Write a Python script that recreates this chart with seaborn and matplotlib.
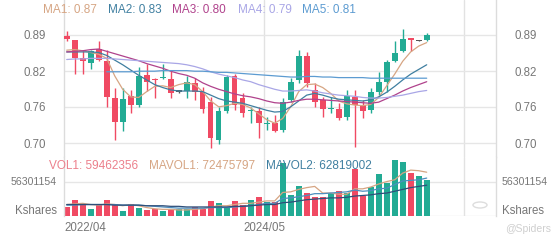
import numpy as np
import pandas as pd
import matplotlib
matplotlib.use("Agg")
import matplotlib.pyplot as plt
from matplotlib import font_manager
import seaborn as sns
from matplotlib.patches import Circle

# ---------------- data ----------------
date_labels = ["2022/04", "2024/05"]
opens  = [0.883, 0.876, 0.845, 0.837, 0.861, 0.840, 0.777, 0.736, 0.780, 0.765,
          0.816, 0.810, 0.811, 0.809, 0.788, 0.789, 0.802, 0.788, 0.771, 0.705,
          0.754, 0.815, 0.777, 0.754, 0.755, 0.732, 0.735, 0.722, 0.774, 0.808,
          0.849, 0.791, 0.774, 0.758, 0.759, 0.745, 0.779, 0.765, 0.757, 0.788,
          0.805, 0.840, 0.858, 0.880, 0.875, 0.876]
highs  = [0.891, 0.877, 0.859, 0.860, 0.874, 0.859, 0.795, 0.794, 0.791, 0.831,
          0.835, 0.812, 0.836, 0.824, 0.790, 0.814, 0.811, 0.796, 0.779, 0.762,
          0.816, 0.819, 0.785, 0.762, 0.762, 0.745, 0.748, 0.777, 0.811, 0.860,
          0.856, 0.802, 0.779, 0.778, 0.768, 0.791, 0.791, 0.774, 0.794, 0.822,
          0.842, 0.874, 0.895, 0.880, 0.876, 0.888]
lows   = [0.874, 0.819, 0.819, 0.827, 0.840, 0.762, 0.705, 0.720, 0.752, 0.761,
          0.789, 0.777, 0.810, 0.777, 0.786, 0.777, 0.774, 0.751, 0.691, 0.699,
          0.751, 0.757, 0.745, 0.734, 0.708, 0.722, 0.719, 0.719, 0.771, 0.802,
          0.796, 0.762, 0.745, 0.751, 0.739, 0.739, 0.694, 0.742, 0.751, 0.782,
          0.788, 0.839, 0.856, 0.858, 0.874, 0.875]
closes = [0.878, 0.845, 0.841, 0.858, 0.843, 0.779, 0.736, 0.775, 0.765, 0.814,
          0.805, 0.808, 0.813, 0.786, 0.788, 0.804, 0.788, 0.759, 0.708, 0.754,
          0.813, 0.765, 0.752, 0.756, 0.734, 0.734, 0.721, 0.771, 0.805, 0.849,
          0.802, 0.771, 0.759, 0.760, 0.742, 0.781, 0.765, 0.755, 0.788, 0.804,
          0.839, 0.855, 0.878, 0.876, 0.875, 0.885]
volumes_m = [14.4, 26.5, 18.2, 11.0, 18.2, 26.5, 19.3, 8.8, 19.9, 12.7,
             9.9, 11.0, 8.8, 11.0, 11.0, 11.0, 15.5, 11.0, 25.4, 21.0,
             14.4, 25.4, 18.2, 26.5, 31.0, 23.7, 23.7, 88.0, 34.8, 49.7,
             38.6, 32.0, 32.0, 37.5, 41.9, 37.5, 77.3, 33.1, 48.5, 69.6,
             55.2, 92.7, 88.9, 71.7, 66.2, 59.46]

ma1 = [0.859, 0.860, 0.858, 0.855, 0.852, 0.845, 0.815, 0.792, 0.779, 0.778,
       0.788, 0.797, 0.798, 0.795, 0.800, 0.803, 0.800, 0.788, 0.772, 0.762,
       0.764, 0.768, 0.766, 0.760, 0.750, 0.740, 0.734, 0.742, 0.762, 0.788,
       0.800, 0.801, 0.795, 0.785, 0.772, 0.767, 0.765, 0.764, 0.766, 0.778,
       0.798, 0.818, 0.840, 0.856, 0.866, 0.872]
ma2 = [0.856, 0.856, 0.856, 0.856, 0.855, 0.850, 0.842, 0.834, 0.825, 0.816,
       0.808, 0.800, 0.795, 0.791, 0.789, 0.789, 0.789, 0.788, 0.782, 0.776,
       0.772, 0.770, 0.768, 0.764, 0.760, 0.756, 0.753, 0.754, 0.762, 0.772,
       0.782, 0.785, 0.782, 0.778, 0.775, 0.774, 0.773, 0.772, 0.774, 0.779,
       0.787, 0.797, 0.808, 0.818, 0.826, 0.834]
ma3 = [0.856, 0.857, 0.858, 0.860, 0.861, 0.857, 0.853, 0.849, 0.845, 0.841,
       0.836, 0.832, 0.828, 0.823, 0.819, 0.816, 0.811, 0.803, 0.797, 0.792,
       0.788, 0.784, 0.781, 0.779, 0.776, 0.772, 0.769, 0.768, 0.770, 0.773,
       0.775, 0.775, 0.774, 0.773, 0.772, 0.771, 0.770, 0.769, 0.768, 0.770,
       0.776, 0.782, 0.789, 0.795, 0.800, 0.805]
ma4 = [0.843, 0.844, 0.844, 0.845, 0.845, 0.845, 0.844, 0.843, 0.842, 0.841,
       0.840, 0.839, 0.838, 0.837, 0.836, 0.834, 0.831, 0.827, 0.822, 0.818,
       0.815, 0.812, 0.808, 0.805, 0.800, 0.796, 0.792, 0.789, 0.789, 0.790,
       0.791, 0.789, 0.786, 0.784, 0.782, 0.781, 0.780, 0.778, 0.777, 0.777,
       0.778, 0.780, 0.782, 0.785, 0.788, 0.790]
ma5 = [np.nan] * 5 + [0.822, 0.822, 0.822, 0.822, 0.823,
       0.823, 0.823, 0.824, 0.824, 0.824, 0.824, 0.823, 0.823, 0.822, 0.821,
       0.821, 0.820, 0.819, 0.818, 0.817, 0.816, 0.815, 0.814, 0.813, 0.813,
       0.814, 0.814, 0.813, 0.813, 0.812, 0.812, 0.812, 0.812, 0.811, 0.811,
       0.811, 0.811, 0.811, 0.811, 0.811, 0.811]

mavol1_m = [19, 20, 21, 19, 18, 20, 19, 17, 19, 17, 14, 12, 11, 11, 10, 10, 11, 12,
            15, 17, 17, 19, 21, 21, 23, 25, 25, 39, 40, 44, 47, 49, 38, 38, 36, 36,
            45, 45, 48, 53, 57, 60, 71, 76, 75, 72.5]
mavol2_m = [18, 18, 19, 19, 19, 19, 19, 18, 18, 18, 17, 16, 15, 14, 13, 13, 13, 13,
            14, 14, 14, 15, 16, 17, 19, 21, 21, 29, 30, 32, 34, 37, 37, 38, 39, 40,
            43, 41, 42, 45, 46, 52, 58, 59, 60, 62.8]
mavol3_m = [19, 19, 19, 19, 19, 19, 18, 18, 18, 18, 17, 17, 17, 16, 16, 15, 15, 15,
            15, 15, 15, 16, 16, 17, 18, 19, 19, 22, 23, 25, 27, 28, 29, 30, 30, 31,
            33, 34, 35, 37, 38, 41, 44, 47, 49, 51]

ma_legend = [("MA1: 0.87", "#d6a583"), ("MA2: 0.83", "#3f7fa0"),
             ("MA3: 0.80", "#b0428c"), ("MA4: 0.79", "#a9a6e6"),
             ("MA5: 0.81", "#5c9bd1")]
vol_legend = [("VOL1: 59462356", "#ec7f8b"), ("MAVOL1: 72475797", "#d6a583"),
              ("MAVOL2: 62819002", "#3f7fa0")]
vol_tick = 56301154

# ---------------- style ----------------
sns.set_theme(style="white")
plt.rcParams['font.family'] = ['Liberation Sans', 'DejaVu Sans']

try:
    font_manager.findfont(font_manager.FontProperties(family="Liberation Sans Narrow"),
                          fallback_to_default=False)
    NARROW = dict(family="Liberation Sans Narrow", fontsize=8.3)
except Exception:
    NARROW = dict(family="Liberation Sans", fontsize=7.6)

UP, DOWN, FLAT = "#22ab94", "#f04a63", "#555555"
GRID = "#e6e6e6"
TXT = "#777777"
FS = 8.3

W, H = 560, 240
fig = plt.figure(figsize=(W / 100, H / 100), dpi=100)
fig.patch.set_facecolor("white")

def fx(px):
    return px / W

def fy(py):
    return 1 - py / H

L, R = 64, 496
TOP, MID, BOT = 0, 157, 216
ax = fig.add_axes([fx(L), fy(MID), fx(R - L), (MID - TOP) / H])
axv = fig.add_axes([fx(L), fy(BOT), fx(R - L), (BOT - MID) / H])

n = len(opens)
idx = np.arange(n)
o = np.array(opens); c = np.array(closes)
hi = np.array(highs); lo = np.array(lows)
cols = [UP if c[i] > o[i] else (DOWN if c[i] < o[i] else FLAT) for i in range(n)]
vcols = [DOWN if c[i] < o[i] else UP for i in range(n)]

pxu = 583.8
ylo = 0.70 - (MID - 143) / pxu
yhi = 0.70 + (143 - TOP) / pxu
xl = (L - 66.7) / 8.0
xr = (R - 66.7) / 8.0

for a in (ax, axv):
    a.set_xlim(xl, xr)
    a.set_facecolor("white")
    for s in ("top", "bottom"):
        a.spines[s].set_visible(False)
    for s in ("left", "right"):
        a.spines[s].set_color("#dcdcdc")
        a.spines[s].set_linewidth(1)
    a.set_xticks([])
    for xv in [(264 - 66.7) / 8.0, (464 - 66.7) / 8.0]:
        a.axvline(xv, color="#e2e2e2", lw=1, zorder=0)

ax.set_ylim(ylo, yhi)
yt = [0.70, 0.7617, 0.8233, 0.885]
ax.set_yticks(yt)
ax.set_yticklabels(["0.70", "0.76", "0.82", "0.89"])
ax.tick_params(axis="y", left=False, right=False, labelleft=True, labelright=True,
               labelsize=FS, labelcolor=TXT, pad=7)
for v in yt:
    ax.axhline(v, color=GRID, lw=1, zorder=0)

# candles
ax.vlines(idx, lo, hi, colors=cols, lw=1, zorder=2)
ax.bar(idx, np.maximum(np.abs(c - o), 1.2 / pxu), bottom=np.minimum(o, c), width=0.7,
       color=cols, linewidth=0, zorder=3)

# moving averages
for arr, (_, col) in zip([ma1, ma2, ma3, ma4, ma5], ma_legend):
    sns.lineplot(x=idx, y=np.array(arr, dtype=float), ax=ax, color=col, lw=0.9,
                 legend=False, zorder=4)
ax.set_xlabel(""); ax.set_ylabel("")

# volume
vols = np.array(volumes_m) * 1e6
vtop = (BOT - MID) * vol_tick / 34.0
axv.set_ylim(0, vtop)
axv.set_yticks([])
axv.axhline(vol_tick, color=GRID, lw=1, zorder=0)
axv.axhline(0, color=GRID, lw=1, zorder=0)
axv.bar(idx, vols, width=0.75, color=vcols, linewidth=0, zorder=2)
for arr, col in zip([mavol1_m, mavol2_m, mavol3_m], ["#d6a583", "#4d8fbf", "#2f4f7a"]):
    sns.lineplot(x=idx, y=np.array(arr) * 1e6, ax=axv, color=col, lw=0.9,
                 legend=False, zorder=3)
axv.set_xlabel(""); axv.set_ylabel("")

# texts
xs = [43, 108, 172, 238, 302]
for (t, col), xp in zip(ma_legend, xs):
    fig.text(fx(xp), fy(10), t, color=col, fontsize=8.5, va="center", ha="left")
for (t, col), xp in zip(vol_legend, [49, 149, 266]):
    fig.text(fx(xp), fy(166), t, color=col, fontsize=8.5, va="center", ha="left")

fig.text(fx(57), fy(182), str(vol_tick), color=TXT, va="center", ha="right", **NARROW)
fig.text(fx(502), fy(182), str(vol_tick), color=TXT, va="center", ha="left", **NARROW)
fig.text(fx(57), fy(211), "Kshares", color=TXT, fontsize=FS, va="center", ha="right")
fig.text(fx(502), fy(211), "Kshares", color=TXT, fontsize=FS, va="center", ha="left")
fig.text(fx(64), fy(228), date_labels[0], color=TXT, fontsize=FS, va="center", ha="left")
fig.text(fx(264), fy(228), date_labels[1], color=TXT, fontsize=FS, va="center", ha="center")

# watermark
circ = Circle((fx(480), fy(205)), 7 / W, transform=fig.transFigure, fill=False,
              edgecolor="#dddddd", lw=1, zorder=0)
fig.patches.append(circ)
fig.text(fx(505), fy(229), "@Spiders", color="#cfcfcf", fontsize=7.5, va="center", ha="left")

fig.savefig("out.png", dpi=100, facecolor="white")
